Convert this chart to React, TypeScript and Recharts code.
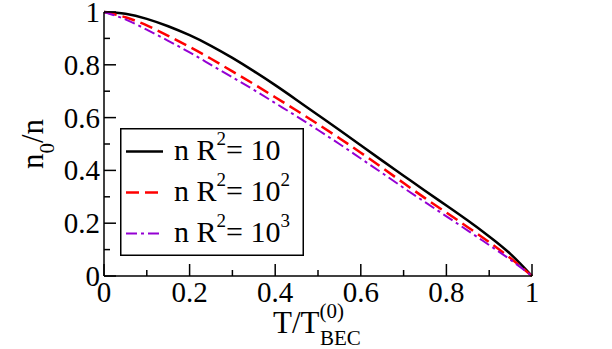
import { LineChart, Line, XAxis, YAxis, Legend } from 'recharts';

// T / T_BEC^(0)
const tValues = [
  0, 0.05, 0.1, 0.15, 0.2, 0.25, 0.3, 0.35, 0.4, 0.45, 0.5,
  0.55, 0.6, 0.65, 0.7, 0.75, 0.8, 0.85, 0.9, 0.95, 1,
];

// n0/n for n R^2 = 10
const condensate10 = [
  1, 0.993, 0.974, 0.946, 0.912, 0.872, 0.826, 0.776, 0.723, 0.667, 0.61,
  0.553, 0.495, 0.437, 0.38, 0.323, 0.267, 0.21, 0.15, 0.083, 0,
];

// n0/n for n R^2 = 10^2
const condensate100 = [
  1, 0.98, 0.949, 0.91, 0.868, 0.823, 0.775, 0.727, 0.677, 0.627, 0.575,
  0.522, 0.467, 0.41, 0.352, 0.295, 0.24, 0.185, 0.128, 0.067, 0,
];

// n0/n for n R^2 = 10^3
const condensate1000 = [
  1, 0.972, 0.933, 0.891, 0.847, 0.8, 0.753, 0.705, 0.655, 0.605, 0.553,
  0.5, 0.445, 0.39, 0.334, 0.28, 0.226, 0.172, 0.117, 0.061, 0,
];

const axisTicks = [0, 0.1, 0.2, 0.3, 0.4, 0.5, 0.6, 0.7, 0.8, 0.9, 1];
const majorTicks = [0, 0.2, 0.4, 0.6, 0.8, 1];
const tickLabels = ['0', '0.2', '0.4', '0.6', '0.8', '1'];

const legendExponents = ['', '2', '3'];

const data = tValues.map((t, i) => ({
  t,
  a: condensate10[i],
  b: condensate100[i],
  c: condensate1000[i],
}));

const FONT = "'Times New Roman', Times, 'Liberation Serif', 'DejaVu Serif', 'Noto Serif', serif";
const txt = { fontFamily: FONT };

const series = [
  { key: 'a', color: '#000000', width: 2.5, dash: undefined as string | undefined },
  { key: 'b', color: '#ff0000', width: 2.5, dash: '13 6' },
  { key: 'c', color: '#9400d3', width: 2, dash: '11 4 3 4' },
];

const labelFor = (v: number) => {
  const idx = majorTicks.findIndex(m => Math.abs(m - v) < 1e-6);
  return idx >= 0 ? tickLabels[idx] : null;
};

const BottomTick = ({ x, y, payload }: any) => {
  const label = labelFor(payload.value);
  return (
    <g>
      <line x1={x} y1={y} x2={x} y2={y - (label ? 12 : 6)} stroke="#000" strokeWidth={1.5} />
      {label && (
        <text x={x} y={y + 26} textAnchor="middle" fontSize={29} style={txt} fill="#000">
          {label}
        </text>
      )}
    </g>
  );
};

const TopTick = ({ x, y, payload }: any) => {
  const label = labelFor(payload.value);
  return <line x1={x} y1={y} x2={x} y2={y + (label ? 12 : 6)} stroke="#000" strokeWidth={1.5} />;
};

const LeftTick = ({ x, y, payload }: any) => {
  const label = labelFor(payload.value);
  return (
    <g>
      <line x1={x} y1={y} x2={x + (label ? 12 : 6)} y2={y} stroke="#000" strokeWidth={1.5} />
      {label && (
        <text x={x - 4} y={y + 10} textAnchor="end" fontSize={29} style={txt} fill="#000">
          {label}
        </text>
      )}
    </g>
  );
};

const RightTick = ({ x, y, payload }: any) => {
  const label = labelFor(payload.value);
  return <line x1={x} y1={y} x2={x - (label ? 12 : 6)} y2={y} stroke="#000" strokeWidth={1.5} />;
};

const XTitle = ({ viewBox }: any) => {
  const cx = viewBox.x + viewBox.width / 2;
  const base = viewBox.y + 57;
  return (
    <text x={cx - 45} y={base} fontSize={31} style={txt} fill="#000">
      T/T
      <tspan dy={-15} fontSize={21}>(0)</tspan>
      <tspan x={cx + 2} y={base + 12} fontSize={21}>BEC</tspan>
    </text>
  );
};

const YTitle = ({ viewBox }: any) => {
  const cy = viewBox.y + viewBox.height / 2;
  return (
    <text
      transform={`translate(43, ${cy}) rotate(-90)`}
      textAnchor="middle"
      fontSize={31}
      style={txt}
      fill="#000"
    >
      n<tspan dy={11} fontSize={21}>0</tspan>
      <tspan dy={-11}>/n</tspan>
    </text>
  );
};

const LegendBox = () => (
  <svg width={184} height={128} style={{ display: 'block' }}>
    <rect x={0.75} y={0.75} width={182.5} height={126.5} fill="#fff" stroke="#000" strokeWidth={1.5} />
    {series.map((s, i) => {
      const ly = 23.5 + i * 41;
      const by = 31.7 + i * 41;
      return (
        <g key={s.key}>
          <line x1={6} x2={43} y1={ly} y2={ly} stroke={s.color} strokeWidth={s.width} strokeDasharray={s.dash} />
          <text x={54} y={by} fontSize={30} style={txt} fill="#000">
            n R<tspan dy={-15} fontSize={19}>2</tspan>
            <tspan dy={15}>= 10</tspan>
            {legendExponents[i] && (
              <tspan dy={-15} fontSize={19}>{legendExponents[i]}</tspan>
            )}
          </text>
        </g>
      );
    })}
  </svg>
);

export default function App() {
  return (
    <div style={{ position: 'absolute', left: 0, top: 0, background: '#fff', fontFamily: FONT }}>
      <LineChart width={612} height={349} data={data} margin={{ top: 12, right: 80, bottom: 43, left: 44 }}>
        <XAxis
          dataKey="t"
          type="number"
          domain={[0, 1]}
          ticks={axisTicks}
          height={30}
          tickSize={0}
          tickMargin={0}
          tickLine={false}
          tick={<BottomTick />}
          axisLine={{ stroke: '#000', strokeWidth: 1.5 }}
          label={{ content: <XTitle /> }}
        />
        <XAxis
          xAxisId="top"
          orientation="top"
          type="number"
          domain={[0, 1]}
          allowDataOverflow
          ticks={axisTicks}
          height={0}
          tickSize={0}
          tickMargin={0}
          tickLine={false}
          tick={<TopTick />}
          axisLine={{ stroke: '#000', strokeWidth: 1.5 }}
        />
        <YAxis
          type="number"
          domain={[0, 1]}
          ticks={axisTicks}
          width={60}
          tickSize={0}
          tickMargin={0}
          tickLine={false}
          tick={<LeftTick />}
          axisLine={{ stroke: '#000', strokeWidth: 1.5 }}
          label={{ content: <YTitle /> }}
        />
        <YAxis
          yAxisId="right"
          orientation="right"
          type="number"
          domain={[0, 1]}
          allowDataOverflow
          ticks={axisTicks}
          width={0}
          tickSize={0}
          tickMargin={0}
          tickLine={false}
          tick={<RightTick />}
          axisLine={{ stroke: '#000', strokeWidth: 1.5 }}
        />
        {series.map(s => (
          <Line
            key={s.key}
            dataKey={s.key}
            type="natural"
            stroke={s.color}
            strokeWidth={s.width}
            strokeDasharray={s.dash}
            dot={false}
            isAnimationActive={false}
          />
        ))}
        <Legend
          layout="horizontal"
          verticalAlign="middle"
          align="center"
          content={<LegendBox />}
          wrapperStyle={{ left: 120, top: 128, width: 184, height: 128 }}
        />
      </LineChart>
    </div>
  );
}
